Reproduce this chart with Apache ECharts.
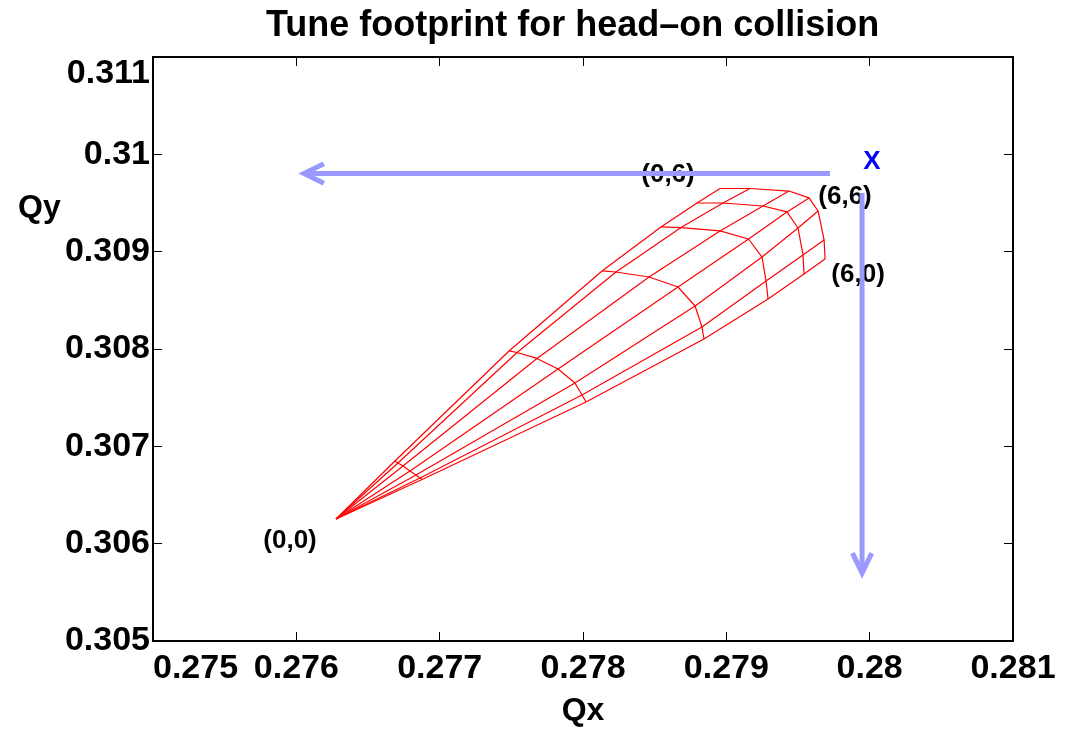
<!DOCTYPE html>
<html>
<head>
<meta charset="utf-8">
<script src="https://cdn.jsdelivr.net/npm/echarts@6/dist/echarts.min.js"></script>
<style>
html,body{margin:0;padding:0;background:#fff;}
#chart{width:1069px;height:732px;}
</style>
</head>
<body>
<div id="chart"></div>
<script>
// ---- data ----
var originQx = 0.276277;
var originQy = 0.306253;
// arcs (amplitude 1..6), each with 7 angle points (ray 0..6)
var arcQx = [
  [0.276688, 0.276709, 0.276744, 0.276793, 0.276835, 0.276863, 0.276877],
  [0.277484, 0.277540, 0.277679, 0.277826, 0.277944, 0.277993, 0.278021],
  [0.278133, 0.278230, 0.278461, 0.278663, 0.278782, 0.278830, 0.278844],
  [0.278544, 0.278684, 0.278956, 0.279155, 0.279249, 0.279277, 0.279291],
  [0.278795, 0.278977, 0.279256, 0.279423, 0.279500, 0.279535, 0.279542],
  [0.278956, 0.279165, 0.279437, 0.279577, 0.279640, 0.279682, 0.279689]
];
var arcQy = [
  [0.306849, 0.306829, 0.306798, 0.306747, 0.306706, 0.306675, 0.306659],
  [0.307980, 0.307964, 0.307903, 0.307795, 0.307651, 0.307528, 0.307456],
  [0.308802, 0.308791, 0.308740, 0.308637, 0.308442, 0.308226, 0.308103],
  [0.309254, 0.309248, 0.309213, 0.309130, 0.308945, 0.308699, 0.308514],
  [0.309500, 0.309500, 0.309469, 0.309408, 0.309243, 0.308966, 0.308771],
  [0.309649, 0.309649, 0.309623, 0.309552, 0.309418, 0.309120, 0.308925]
];
// annotation arrows: [startQx, startQy, tipQx, tipQy]
var arrowH = [0.279723, 0.309803, 0.276054, 0.309803];
var arrowV = [0.279947, 0.309603, 0.279947, 0.305699];
// text labels
var labelTexts = ['(0,0)', '(0,6)', '(6,6)', '(6,0)', 'X'];
var labelQx = [0.275956, 0.278593, 0.279828, 0.279919, 0.280016];
var labelQy = [0.306027, 0.309788, 0.309562, 0.308760, 0.309921];
var labelColors = ['#000000', '#000000', '#000000', '#000000', '#0000ff'];
// axes
var xMin = 0.275, xMax = 0.281, yMin = 0.305, yMax = 0.311, tickStep = 0.001;

// ---- chart ----
var FONT = 'Liberation Sans';
var chart = echarts.init(document.getElementById('chart'), null, {renderer: 'canvas'});

function fmt(v) { return String(Number(v.toFixed(4))); }

var series = [];
var nRays = arcQx[0].length;
for (var k = 0; k < nRays; k++) {
  var d = [[originQx, originQy]];
  for (var i = 0; i < arcQx.length; i++) d.push([arcQx[i][k], arcQy[i][k]]);
  series.push({type: 'line', data: d, showSymbol: false, symbol: 'none', silent: true,
    lineStyle: {color: '#ff0000', width: 1.2}, z: 2});
}
for (var i = 0; i < arcQx.length; i++) {
  var d2 = [];
  for (var k = 0; k < nRays; k++) d2.push([arcQx[i][k], arcQy[i][k]]);
  series.push({type: 'line', data: d2, showSymbol: false, symbol: 'none', silent: true,
    lineStyle: {color: '#ff0000', width: 1.2}, z: 2});
}
var labelData = labelTexts.map(function (t, i) { return [labelQx[i], labelQy[i], i]; });
series.push({
  type: 'custom', coordinateSystem: 'cartesian2d', silent: true, z: 3, clip: false,
  data: labelData, encode: {x: 0, y: 1},
  renderItem: function (params, api) {
    var p = api.coord([api.value(0), api.value(1)]);
    var idx = api.value(2);
    return {type: 'text', x: p[0], y: p[1],
      style: {text: labelTexts[idx], fill: labelColors[idx], align: 'center', verticalAlign: 'middle',
        font: 'bold 26px "' + FONT + '"'}};
  }
});
series.push({
  type: 'custom', coordinateSystem: 'cartesian2d', silent: true, z: 5, clip: false,
  data: [arrowH, arrowV],
  encode: {x: [0, 2], y: [1, 3]},
  renderItem: function (params, api) {
    var p1 = api.coord([api.value(0), api.value(1)]);
    var p2 = api.coord([api.value(2), api.value(3)]);
    var dx = p2[0] - p1[0], dy = p2[1] - p1[1];
    var len = Math.sqrt(dx * dx + dy * dy);
    var ux = dx / len, uy = dy / len;
    var armLen = 22, ang = 26 * Math.PI / 180;
    var ca = Math.cos(ang), sa = Math.sin(ang);
    var a1 = [p2[0] - armLen * (ux * ca - uy * sa), p2[1] - armLen * (uy * ca + ux * sa)];
    var a2 = [p2[0] - armLen * (ux * ca + uy * sa), p2[1] - armLen * (uy * ca - ux * sa)];
    var style = {stroke: '#9999ff', lineWidth: 5, fill: null, lineJoin: 'miter'};
    return {type: 'group', children: [
      {type: 'line', shape: {x1: p1[0], y1: p1[1], x2: p2[0], y2: p2[1]}, style: style},
      {type: 'polyline', shape: {points: [a1, p2, a2]}, style: style}
    ]};
  }
});

var axisLabelStyle = {fontFamily: FONT, fontWeight: 'bold', fontSize: 34, color: '#000'};
var option = {
  animation: false,
  backgroundColor: '#ffffff',
  title: {text: 'Tune footprint for head\u2013on collision', left: 261, top: 3,
    textStyle: {fontFamily: FONT, fontWeight: 'bold', fontSize: 36, color: '#000'}},
  grid: {left: 153, right: 56, top: 57, bottom: 91, containLabel: false, outerBoundsMode: 'none'},
  xAxis: [{
    type: 'value', min: xMin, max: xMax, interval: tickStep, position: 'bottom',
    name: 'Qx', nameLocation: 'middle', nameGap: 54,
    nameTextStyle: {fontFamily: FONT, fontWeight: 'bold', fontSize: 32, color: '#000'},
    axisLine: {show: true, onZero: false, lineStyle: {color: '#000', width: 2}},
    axisTick: {show: true, inside: true, length: 9, lineStyle: {color: '#000', width: 1}},
    axisLabel: Object.assign({margin: 11, formatter: fmt, alignMinLabel: 'left'}, axisLabelStyle),
    splitLine: {show: false}
  }, {
    type: 'value', min: xMin, max: xMax, interval: tickStep, position: 'top',
    axisLine: {show: true, onZero: false, lineStyle: {color: '#000', width: 2}},
    axisTick: {show: true, inside: true, length: 9, lineStyle: {color: '#000', width: 1}},
    axisLabel: {show: false}, splitLine: {show: false}
  }],
  yAxis: [{
    type: 'value', min: yMin, max: yMax, interval: tickStep, position: 'left',
    axisLine: {show: true, onZero: false, lineStyle: {color: '#000', width: 2}},
    axisTick: {show: true, inside: true, length: 9, lineStyle: {color: '#000', width: 1}},
    axisLabel: Object.assign({margin: 3, formatter: fmt,
      verticalAlignMaxLabel: 'top'}, axisLabelStyle),
    splitLine: {show: false}
  }, {
    type: 'value', min: yMin, max: yMax, interval: tickStep, position: 'right',
    axisLine: {show: true, onZero: false, lineStyle: {color: '#000', width: 2}},
    axisTick: {show: true, inside: true, length: 9, lineStyle: {color: '#000', width: 1}},
    axisLabel: {show: false}, splitLine: {show: false}
  }],
  graphic: [{
    type: 'text', left: 18, top: 192,
    style: {text: 'Qy', fontFamily: FONT, fontWeight: 'bold', fontSize: 32, fill: '#000'}
  }],
  series: series
};
chart.setOption(option);
</script>
</body>
</html>
